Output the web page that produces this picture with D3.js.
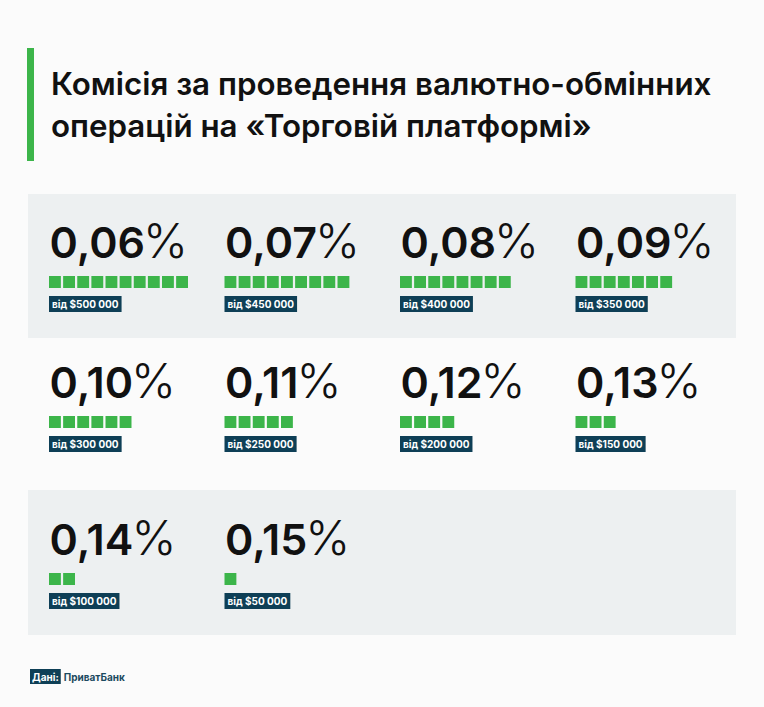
<!DOCTYPE html>
<html>
<head>
<meta charset="utf-8">
<script src="https://cdn.jsdelivr.net/npm/d3@7"></script>
<style>
  html, body { margin: 0; padding: 0; background: #fbfbfb; }
  svg { display: block; }
</style>
</head>
<body>
<svg id="chart"></svg>
<script>
// дані
const rates = ["0,06", "0,07", "0,08", "0,09", "0,10", "0,11", "0,12", "0,13", "0,14", "0,15"];
const thresholds = [500000, 450000, 400000, 350000, 300000, 250000, 200000, 150000, 100000, 50000];
const squareCounts = [10, 9, 8, 7, 6, 5, 4, 3, 2, 1];
const titleLines = ["Комісія за проведення валютно-обмінних", "операцій на «Торговій платформі»"];
const source = "ПриватБанк";

const width = 764, height = 707;
const green = "#3cb54a", navy = "#0e3f56";

const svg = d3.select("#chart")
  .attr("width", width)
  .attr("height", height);

svg.append("rect").attr("width", width).attr("height", height).attr("fill", "#fbfbfb");

// заголовок
svg.append("rect")
  .attr("x", 27).attr("y", 48)
  .attr("width", 7).attr("height", 113)
  .attr("fill", green);

svg.append("g").selectAll("text")
  .data(titleLines)
  .join("text")
  .attr("x", 51)
  .attr("y", (d, i) => 95 + i * 42)
  .attr("font-family", "Inter, Roboto, sans-serif")
  .attr("font-weight", 600)
  .attr("font-size", 31.3)
  .attr("fill", "#111")
  .text(d => d);

// сітка
const cols = 4;
const x = d3.scaleBand()
  .domain(d3.range(cols))
  .range([49, 49 + cols * 175.5]);

const rowBase = [258, 398, 555];      // базова лінія відсотків у кожному ряду
const bands = [[194, 338], null, [490, 635]];

svg.append("g").selectAll("rect")
  .data(bands.filter(b => b))
  .join("rect")
  .attr("x", 28).attr("width", 708)
  .attr("y", d => d[0])
  .attr("height", d => d[1] - d[0])
  .attr("fill", "#edf0f1");

const cells = rates.map((r, i) => ({
  rate: r,
  threshold: thresholds[i],
  count: squareCounts[i],
  col: i % cols,
  row: Math.floor(i / cols)
}));

const sq = d3.scaleBand()
  .domain(d3.range(10))
  .range([0, 139])
  .paddingInner(0.16);

const fmt = d3.formatLocale({ thousands: " ", grouping: [3], currency: ["$", ""], decimal: "," }).format("$,d");

const cell = svg.append("g").selectAll("g")
  .data(cells)
  .join("g")
  .attr("transform", d => `translate(${x(d.col)},${rowBase[d.row]})`);

const pct = cell.append("text")
  .attr("x", 0.5)
  .attr("y", 0)
  .attr("font-family", "Inter, Roboto, sans-serif")
  .attr("font-size", 43)
  .attr("fill", "#111");
pct.append("tspan").attr("font-weight", 600).text(d => d.rate);
pct.append("tspan").attr("font-weight", 300).attr("font-size", 48).attr("dx", -2).text("%");

cell.each(function(d) {
  d3.select(this).append("g")
    .selectAll("rect")
    .data(d3.range(d.count))
    .join("rect")
    .attr("x", k => sq(k))
    .attr("y", 18)
    .attr("width", sq.bandwidth())
    .attr("height", 12)
    .attr("fill", green);
});

const lab = cell.append("g").attr("transform", "translate(0,38)");
lab.append("rect")
  .attr("height", 16)
  .attr("fill", navy);
lab.append("text")
  .attr("x", 3)
  .attr("y", 11.5)
  .attr("font-family", "Inter, Roboto, sans-serif")
  .attr("font-weight", 700)
  .attr("font-size", 10)
  .attr("fill", "#fff")
  .text(d => "від " + fmt(d.threshold));
lab.each(function() {
  const w = d3.select(this).select("text").node().getComputedTextLength();
  d3.select(this).select("rect").attr("width", w + 6);
});

// джерело
const foot = svg.append("g").attr("transform", "translate(30,669)");
const footRect = foot.append("rect").attr("height", 15).attr("fill", navy);
const footLab = foot.append("text")
  .attr("x", 2).attr("y", 11.5)
  .attr("font-family", "Inter, Roboto, sans-serif")
  .attr("font-weight", 700).attr("font-size", 10)
  .attr("fill", "#fff")
  .text("Дані:");
const fw = footLab.node().getComputedTextLength() + 4;
footRect.attr("width", fw);
foot.append("text")
  .attr("x", fw + 3).attr("y", 11.5)
  .attr("font-family", "Inter, Roboto, sans-serif")
  .attr("font-weight", 700).attr("font-size", 10)
  .attr("fill", "#1c4a60")
  .text(source);
</script>
</body>
</html>
